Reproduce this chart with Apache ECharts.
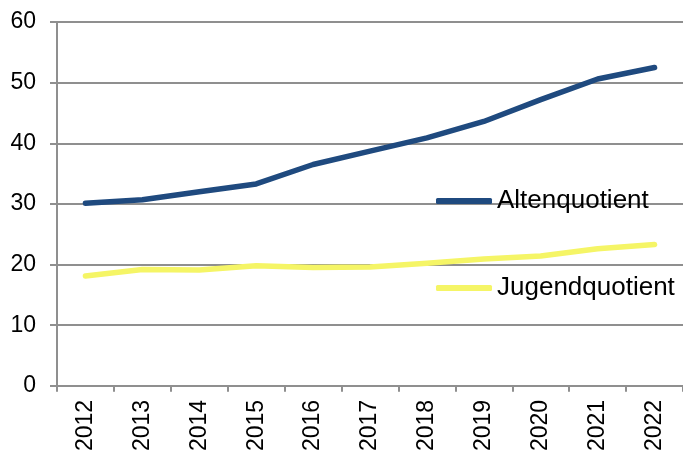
<!DOCTYPE html>
<html><head><meta charset="utf-8">
<script src="https://cdn.jsdelivr.net/npm/echarts@6/dist/echarts.min.js"></script>
<style>html,body{margin:0;padding:0;background:#fff}#c{width:683px;height:454px}</style>
</head><body><div id="c"></div>
<script>
const years = ['2012','2013','2014','2015','2016','2017','2018','2019','2020','2021','2022'];
const altenquotient = [30.1, 30.7, 32.0, 33.3, 36.5, 38.7, 40.9, 43.6, 47.2, 50.6, 52.5];
const jugendquotient = [18.1, 19.2, 19.1, 19.8, 19.5, 19.6, 20.2, 20.9, 21.4, 22.6, 23.3];
const seriesNames = ['Altenquotient', 'Jugendquotient'];
const yTicks = [0, 10, 20, 30, 40, 50, 60];

const FONT = '"Liberation Sans", Arial, sans-serif';
const GRID_COLOR = '#8f8f8f';
const chart = echarts.init(document.getElementById('c'), null, {renderer: 'canvas'});
const legendBase = {
  orient: 'vertical', left: 436, padding: 0, itemWidth: 56, itemHeight: 6, icon: 'roundRect',
  textStyle: {fontFamily: FONT, fontSize: 26, color: '#000'}, selectedMode: false
};
chart.setOption({
  animation: false,
  backgroundColor: '#fff',
  grid: {left: 57, top: 22, width: 632, height: 365, containLabel: false},
  legend: [
    Object.assign({}, legendBase, {data: [seriesNames[0]], top: 188}),
    Object.assign({}, legendBase, {data: [seriesNames[1]], top: 275})
  ],
  xAxis: {
    type: 'category', data: years, boundaryGap: true,
    axisLine: {lineStyle: {color: GRID_COLOR, width: 2}},
    axisTick: {show: true, length: 6, lineStyle: {color: GRID_COLOR, width: 2}},
    axisLabel: {rotate: 90, margin: 14, fontFamily: FONT, fontSize: 23, color: '#000', interval: 0}
  },
  yAxis: {
    type: 'value', min: yTicks[0], max: yTicks[yTicks.length - 1], interval: 10,
    axisLine: {show: true, lineStyle: {color: GRID_COLOR, width: 2}},
    axisTick: {show: true, length: 7, lineStyle: {color: GRID_COLOR, width: 2}},
    splitLine: {show: true, lineStyle: {color: GRID_COLOR, width: 2}},
    axisLabel: {margin: 21, fontFamily: FONT, fontSize: 23, color: '#000'}
  },
  series: [
    {name: seriesNames[0], type: 'line', data: altenquotient, symbol: 'none',
     color: '#1F4A7F', lineStyle: {width: 5.5, cap: 'round', join: 'round'}},
    {name: seriesNames[1], type: 'line', data: jugendquotient, symbol: 'none',
     color: '#F5F566', lineStyle: {width: 5.5, cap: 'round', join: 'round'}}
  ]
});
</script></body></html>
